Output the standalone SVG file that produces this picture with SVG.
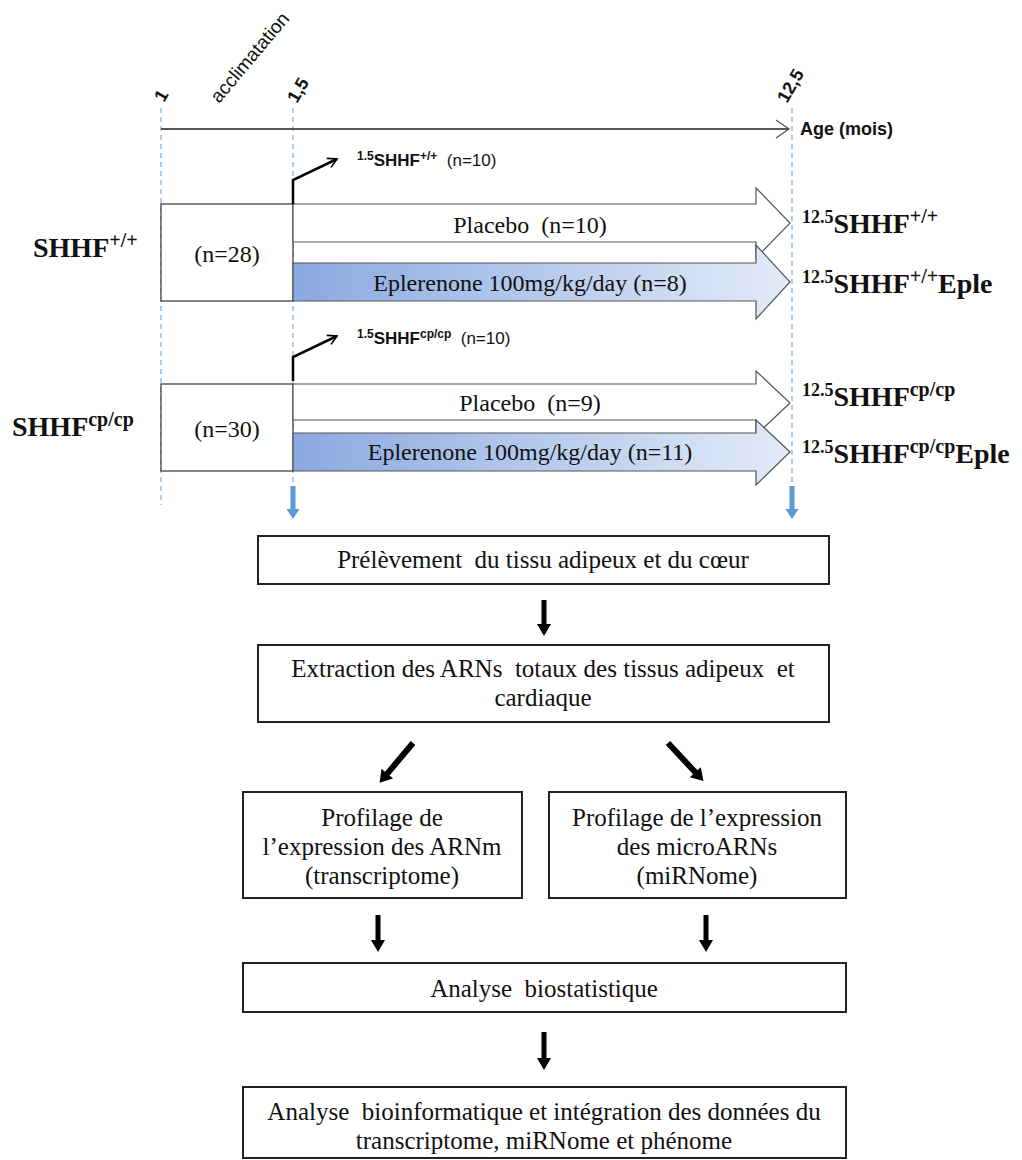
<svg xmlns="http://www.w3.org/2000/svg" width="1022" height="1160" viewBox="0 0 1022 1160">
<defs>
<linearGradient id="blueGrad" x1="0" y1="0" x2="1" y2="0">
<stop offset="0" stop-color="#8aa9e0"/>
<stop offset="1" stop-color="#e3ebf8"/>
</linearGradient>
<marker id="openHead" viewBox="0 0 12 12" refX="10" refY="6" markerWidth="12" markerHeight="12" markerUnits="userSpaceOnUse" orient="auto">
<path d="M1,1 L10,6 L1,11" fill="none" stroke="#000" stroke-width="1.6"/>
</marker>
<marker id="axisHead" viewBox="0 0 16 20" refX="14" refY="10" markerWidth="16" markerHeight="20" markerUnits="userSpaceOnUse" orient="auto">
<path d="M1,1 L14,10 L1,19" fill="none" stroke="#555" stroke-width="1.3"/>
</marker>
</defs>
<style>
.dash{stroke:#5b9bd5;stroke-width:1;stroke-dasharray:5,4;fill:none}
.box{fill:#fff;stroke:#222;stroke-width:2}
.tbox{fill:#fff;stroke:#333;stroke-width:1.2}
.arr{stroke:#555;stroke-width:1.2}
.serif{font-family:"Liberation Serif","Times New Roman",serif;fill:#111}
.sans{font-family:"Liberation Sans",Arial,sans-serif;fill:#111}
.ft{font-size:25px;text-anchor:middle}
.tt{font-size:24px;text-anchor:middle}
.big{font-size:28px;font-weight:bold}
.sm{font-size:17px}
.blk{fill:#000}
.blue{fill:#5b9bd5}
</style>

<g id="timeline">
<line class="dash" x1="161" y1="108" x2="161" y2="505"/>
<line class="dash" x1="293" y1="108" x2="293" y2="485"/>
<line class="dash" x1="792" y1="108" x2="792" y2="485"/>
<line x1="161" y1="129" x2="789" y2="129" stroke="#555" stroke-width="2" marker-end="url(#axisHead)"/>
<text class="sans" font-size="18" font-weight="bold" transform="translate(164,103) rotate(-60)">1</text>
<text class="sans" font-size="19" transform="translate(219,104) rotate(-50)">acclimatation</text>
<text class="sans" font-size="18" font-weight="bold" transform="translate(297,104) rotate(-60)">1,5</text>
<text class="sans" font-size="18" font-weight="bold" transform="translate(787,104) rotate(-60)">12,5</text>
<text class="sans" x="800" y="135" font-size="18" font-weight="bold">Age (mois)</text>
</g>

<g id="group-wt">
<text class="serif big" x="33" y="257">SHHF<tspan font-size="20" dy="-10">+/+</tspan></text>
<rect class="tbox" x="161" y="204" width="132" height="97"/>
<text class="serif tt" x="227" y="262" font-size="25">(n=28)</text>
<polygon class="arr" fill="#fff" points="293,204 756,204 756,188 790,223 756,258 756,242 293,242"/>
<text class="serif tt" x="530" y="233" xml:space="preserve">Placebo  (n=10)</text>
<polygon class="arr" fill="url(#blueGrad)" points="293,263 756,263 756,245 790,282 756,319 756,301 293,301"/>
<text class="serif tt" x="530" y="291">Eplerenone 100mg/kg/day (n=8)</text>
<text class="serif big" x="802" y="233"><tspan font-size="18" dy="-10">12.5</tspan><tspan dy="10">SHHF</tspan><tspan font-size="20" dy="-10">+/+</tspan></text>
<text class="serif big" x="802" y="293"><tspan font-size="18" dy="-10">12.5</tspan><tspan dy="10">SHHF</tspan><tspan font-size="20" dy="-10">+/+</tspan><tspan dy="10">Eple</tspan></text>
<text class="sans sm" x="357" y="166" xml:space="preserve"><tspan font-size="12" font-weight="bold" dy="-6">1.5</tspan><tspan font-weight="bold" dy="6">SHHF</tspan><tspan font-size="12" font-weight="bold" dy="-6">+/+</tspan><tspan dy="6">  (n=10)</tspan></text>
</g>

<g id="group-cp">
<text class="serif big" x="12" y="436">SHHF<tspan font-size="20" dy="-10">cp/cp</tspan></text>
<rect class="tbox" x="161" y="384" width="132" height="87"/>
<text class="serif tt" x="227" y="437" font-size="25">(n=30)</text>
<polygon class="arr" fill="#fff" points="293,384 756,384 756,371 790,403 756,435 756,420 293,420"/>
<text class="serif tt" x="530" y="411" xml:space="preserve">Placebo  (n=9)</text>
<polygon class="arr" fill="url(#blueGrad)" points="293,433 756,433 756,420 790,452 756,485 756,471 293,471"/>
<text class="serif tt" x="530" y="460">Eplerenone 100mg/kg/day (n=11)</text>
<text class="serif big" x="802" y="406"><tspan font-size="18" dy="-10">12.5</tspan><tspan dy="10">SHHF</tspan><tspan font-size="20" dy="-10">cp/cp</tspan></text>
<text class="serif big" x="802" y="463"><tspan font-size="18" dy="-10">12.5</tspan><tspan dy="10">SHHF</tspan><tspan font-size="20" dy="-10">cp/cp</tspan><tspan dy="10">Eple</tspan></text>
<text class="sans sm" x="357" y="344" xml:space="preserve"><tspan font-size="12" font-weight="bold" dy="-6">1.5</tspan><tspan font-weight="bold" dy="6">SHHF</tspan><tspan font-size="12" font-weight="bold" dy="-6">cp/cp</tspan><tspan dy="6">  (n=10)</tspan></text>
</g>

<g id="box-prelevement">
<rect class="box" x="258" y="536" width="571" height="48"/>
<text class="serif ft" x="543" y="568" xml:space="preserve">Prélèvement  du tissu adipeux et du cœur</text>
</g>
<g id="box-extraction">
<rect class="box" x="258" y="645" width="571" height="77"/>
<text class="serif ft" x="543" y="677" xml:space="preserve">Extraction des ARNs  totaux des tissus adipeux  et</text>
<text class="serif ft" x="543" y="706">cardiaque</text>
</g>
<g id="box-arnm">
<rect class="box" x="243" y="792" width="279" height="106"/>
<text class="serif ft" x="382" y="826">Profilage de</text>
<text class="serif ft" x="382" y="855">l’expression des ARNm</text>
<text class="serif ft" x="382" y="884">(transcriptome)</text>
</g>
<g id="box-mirna">
<rect class="box" x="549" y="792" width="297" height="106"/>
<text class="serif ft" x="697" y="826">Profilage de l’expression</text>
<text class="serif ft" x="697" y="855">des microARNs</text>
<text class="serif ft" x="697" y="884">(miRNome)</text>
</g>
<g id="box-biostat">
<rect class="box" x="243" y="963" width="603" height="49"/>
<text class="serif ft" x="544" y="997" xml:space="preserve">Analyse  biostatistique</text>
</g>
<g id="box-bioinfo">
<rect class="box" x="243" y="1087" width="603" height="71"/>
<text class="serif ft" x="544" y="1120" xml:space="preserve">Analyse  bioinformatique et intégration des données du</text>
<text class="serif ft" x="544" y="1149">transcriptome, miRNome et phénome</text>
</g>

<g id="connectors">
<path d="M293,204 V180 L337,159" fill="none" stroke="#000" stroke-width="2.5" marker-end="url(#openHead)"/>
<path d="M293,381 V357 L337,336" fill="none" stroke="#000" stroke-width="2.5" marker-end="url(#openHead)"/>
<polygon class="blue" points="290.5,486 295.5,486 295.5,509 299.5,509 293,519 286.5,509 290.5,509"/>
<polygon class="blue" points="789.5,486 794.5,486 794.5,509 798.5,509 792,519 785.5,509 789.5,509"/>
<polygon class="blk" points="541.5,600 546.5,600 546.5,624 551,624 544,636 537,624 541.5,624"/>
<polygon class="blk" points="375.5,915 380.5,915 380.5,940 385,940 378,952 371,940 375.5,940"/>
<polygon class="blk" points="703.5,915 708.5,915 708.5,940 713,940 706,952 699,940 703.5,940"/>
<polygon class="blk" points="541.5,1032 546.5,1032 546.5,1058 551,1058 544,1070 537,1058 541.5,1058"/>
<g transform="translate(413,743) rotate(40)">
<polygon class="blk" points="-3,0 3,0 3,40 7.5,40 0,52 -7.5,40 -3,40"/>
</g>
<g transform="translate(668,743) rotate(-43)">
<polygon class="blk" points="-3,0 3,0 3,40 7.5,40 0,52 -7.5,40 -3,40"/>
</g>
</g>
</svg>
